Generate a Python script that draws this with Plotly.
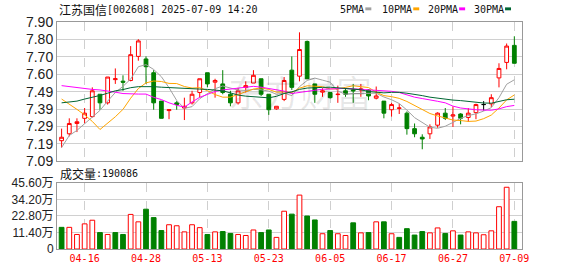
import plotly.graph_objects as go

# ---------------- data ----------------
dates = ["04-11", "04-14", "04-15", "04-16", "04-17", "04-18", "04-21", "04-22", "04-23", "04-24",
         "04-25", "04-28", "04-29", "04-30", "05-06", "05-07", "05-08", "05-09", "05-12", "05-13",
         "05-14", "05-15", "05-16", "05-19", "05-20", "05-21", "05-22", "05-23", "05-26", "05-27",
         "05-28", "05-29", "05-30", "06-03", "06-04", "06-05", "06-06", "06-09", "06-10", "06-11",
         "06-12", "06-13", "06-16", "06-17", "06-18", "06-19", "06-20", "06-23", "06-24", "06-25",
         "06-26", "06-27", "06-30", "07-01", "07-02", "07-03", "07-04", "07-07", "07-08", "07-09"]

open_ = [7.21, 7.25, 7.31, 7.34, 7.35, 7.48, 7.43, 7.565, 7.556, 7.56,
         7.70, 7.685, 7.605, 7.44, 7.385, 7.43, 7.40, 7.43, 7.49, 7.605,
         7.55, 7.54, 7.48, 7.43, 7.52, 7.545, 7.57, 7.48, 7.395, 7.45,
         7.62, 7.585, 7.787, 7.54, 7.492, 7.49, 7.478, 7.50, 7.505, 7.505,
         7.505, 7.457, 7.44, 7.39, 7.398, 7.37, 7.28, 7.23, 7.25, 7.30,
         7.37, 7.353, 7.365, 7.345, 7.373, 7.42, 7.424, 7.575, 7.665, 7.764]
high = [7.28, 7.34, 7.34, 7.40, 7.52, 7.48, 7.58, 7.63, 7.59, 7.76,
        7.80, 7.70, 7.62, 7.44, 7.39, 7.44, 7.46, 7.50, 7.57, 7.605,
        7.57, 7.62, 7.50, 7.515, 7.555, 7.62, 7.57, 7.48, 7.41, 7.58,
        7.70, 7.84, 7.792, 7.54, 7.515, 7.49, 7.53, 7.51, 7.54, 7.54,
        7.51, 7.525, 7.44, 7.43, 7.425, 7.38, 7.31, 7.247, 7.305, 7.375,
        7.40, 7.41, 7.37, 7.40, 7.425, 7.44, 7.48, 7.66, 7.775, 7.817]
low = [7.17, 7.235, 7.26, 7.31, 7.345, 7.39, 7.42, 7.54, 7.50, 7.555,
       7.675, 7.54, 7.39, 7.34, 7.335, 7.39, 7.33, 7.42, 7.46, 7.52,
       7.46, 7.48, 7.41, 7.42, 7.49, 7.545, 7.47, 7.36, 7.39, 7.44,
       7.505, 7.555, 7.57, 7.43, 7.465, 7.455, 7.43, 7.465, 7.43, 7.465,
       7.445, 7.45, 7.34, 7.35, 7.365, 7.245, 7.23, 7.16, 7.22, 7.285,
       7.33, 7.29, 7.305, 7.32, 7.335, 7.385, 7.405, 7.52, 7.625, 7.66]
close = [7.23, 7.31, 7.32, 7.37, 7.50, 7.43, 7.58, 7.57, 7.55, 7.71,
         7.79, 7.64, 7.43, 7.34, 7.39, 7.42, 7.41, 7.48, 7.57, 7.54,
         7.56, 7.49, 7.43, 7.50, 7.53, 7.59, 7.48, 7.39, 7.41, 7.56,
         7.52, 7.74, 7.57, 7.48, 7.50, 7.46, 7.48, 7.48, 7.50, 7.51,
         7.47, 7.47, 7.37, 7.42, 7.40, 7.28, 7.25, 7.22, 7.29, 7.37,
         7.34, 7.36, 7.34, 7.37, 7.42, 7.42, 7.46, 7.63, 7.76, 7.66]

ma5 = [7.17, 7.24, 7.27, 7.31, 7.346, 7.386, 7.440, 7.490, 7.526, 7.568,
       7.640, 7.652, 7.624, 7.582, 7.518, 7.444, 7.398, 7.408, 7.454, 7.484,
       7.512, 7.528, 7.518, 7.504, 7.502, 7.508, 7.506, 7.498, 7.480, 7.486,
       7.472, 7.524, 7.560, 7.574, 7.562, 7.550, 7.498, 7.480, 7.484, 7.486,
       7.488, 7.486, 7.464, 7.448, 7.426, 7.388, 7.344, 7.314, 7.288, 7.282,
       7.294, 7.316, 7.340, 7.356, 7.366, 7.382, 7.402, 7.460, 7.538, 7.564]
ma10 = [7.452, 7.424, 7.392, 7.360, 7.322, 7.275, 7.311, 7.349, 7.392, 7.457,
        7.513, 7.546, 7.557, 7.554, 7.543, 7.542, 7.525, 7.516, 7.518, 7.501,
        7.478, 7.463, 7.463, 7.479, 7.493, 7.510, 7.517, 7.508, 7.492, 7.494,
        7.490, 7.515, 7.529, 7.527, 7.524, 7.511, 7.511, 7.520, 7.529, 7.524,
        7.519, 7.492, 7.472, 7.466, 7.456, 7.438, 7.415, 7.389, 7.368, 7.354,
        7.341, 7.330, 7.327, 7.322, 7.324, 7.338, 7.359, 7.400, 7.447, 7.476]
ma20 = [7.530, 7.524, 7.519, 7.511, 7.508, 7.505, 7.500, 7.492, 7.484, 7.481,
        7.481, 7.481, 7.462, 7.449, 7.430, 7.416, 7.405, 7.435, 7.462, 7.479,
        7.496, 7.505, 7.510, 7.517, 7.518, 7.526, 7.521, 7.512, 7.505, 7.498,
        7.484, 7.489, 7.496, 7.503, 7.509, 7.511, 7.514, 7.514, 7.511, 7.509,
        7.505, 7.504, 7.501, 7.497, 7.490, 7.475, 7.463, 7.455, 7.449, 7.439,
        7.430, 7.411, 7.400, 7.394, 7.390, 7.388, 7.387, 7.395, 7.408, 7.415]
ma30 = [7.430, 7.434, 7.440, 7.452, 7.461, 7.473, 7.486, 7.500, 7.507, 7.518,
        7.524, 7.526, 7.524, 7.521, 7.518, 7.515, 7.514, 7.512, 7.510, 7.508,
        7.505, 7.500, 7.488, 7.475, 7.469, 7.466, 7.462, 7.459, 7.468, 7.484,
        7.494, 7.508, 7.516, 7.520, 7.520, 7.521, 7.518, 7.515, 7.513, 7.506,
        7.496, 7.490, 7.488, 7.491, 7.491, 7.486, 7.481, 7.472, 7.463, 7.457,
        7.450, 7.446, 7.443, 7.438, 7.435, 7.429, 7.428, 7.436, 7.448, 7.451]

# volume in 万
volume = [14.9, 14.9, 10.0, 17.3, 19.8, 11.3, 10.0, 11.3, 10.0, 23.8,
          18.7, 27.4, 21.6, 12.7, 16.7, 16.0, 11.8, 16.7, 14.7, 10.0,
          11.8, 12.0, 10.7, 10.0, 9.3, 13.1, 11.3, 13.1, 8.0, 26.0,
          24.0, 37.1, 22.7, 20.0, 10.5, 12.7, 10.5, 9.3, 18.0, 11.1,
          11.3, 18.7, 18.7, 10.5, 8.0, 14.0, 9.6, 12.0, 11.1, 14.5,
          10.7, 12.5, 9.6, 11.8, 11.1, 9.8, 12.5, 29.1, 42.5, 19.0086]
vol_dir = ["d", "u", "u", "u", "u", "d", "u", "d", "d", "u",
           "u", "d", "d", "d", "u", "u", "u", "u", "u", "d",
           "u", "d", "d", "u", "u", "u", "d", "d", "u", "u",
           "d", "u", "d", "d", "u", "d", "u", "u", "d", "u",
           "d", "u", "d", "u", "d", "d", "d", "d", "u", "u",
           "d", "u", "d", "u", "u", "u", "u", "u", "u", "d"]

price_ticks = [7.09, 7.19125, 7.2925, 7.39375, 7.495, 7.59625, 7.6975, 7.79875, 7.90]
price_labels = ["7.09", "7.19", "7.29", "7.39", "7.49", "7.60", "7.70", "7.80", "7.90"]
vol_ticks = [0, 11.40, 22.80, 34.20, 45.60]
vol_labels = ["0", "11.40万", "22.80万", "34.20万", "45.60万"]
date_ticks = ["04-16", "04-28", "05-13", "05-23", "06-05", "06-17", "06-27", "07-09"]

RED = "#ff0000"
GREEN = "#008000"

# ---------------- figure ----------------
fig = go.Figure()

is_doji = [o == c for o, c in zip(open_, close)]


def pick(arr, flag):
    return [v if d == flag else None for v, d in zip(arr, is_doji)]


fig.add_trace(go.Candlestick(
    x=dates, open=pick(open_, False), high=pick(high, False), low=pick(low, False), close=pick(close, False),
    increasing=dict(line=dict(color=RED, width=1), fillcolor="#ffffff"),
    decreasing=dict(line=dict(color=GREEN, width=1), fillcolor=GREEN),
    xaxis="x", yaxis="y", showlegend=False, hoverinfo="skip"))
fig.add_trace(go.Candlestick(
    x=dates, open=pick(open_, True), high=pick(high, True), low=pick(low, True), close=pick(close, True),
    increasing=dict(line=dict(color="#000000", width=1), fillcolor="#000000"),
    decreasing=dict(line=dict(color="#000000", width=1), fillcolor="#000000"),
    xaxis="x", yaxis="y", showlegend=False, hoverinfo="skip"))

ma_colors = {"5PMA": "#a0a0a0", "10PMA": "#ffa500", "20PMA": "#ff00ff", "30PMA": "#006633"}
for name, vals in [("5PMA", ma5), ("10PMA", ma10), ("20PMA", ma20), ("30PMA", ma30)]:
    fig.add_trace(go.Scatter(x=dates, y=vals, mode="lines", name=name,
                             line=dict(color=ma_colors[name], width=1),
                             xaxis="x", yaxis="y", showlegend=False, hoverinfo="skip"))

fig.add_trace(go.Bar(
    x=dates, y=volume,
    marker=dict(color=["#ffffff" if d == "u" else GREEN for d in vol_dir],
                line=dict(color=[RED if d == "u" else GREEN for d in vol_dir], width=1)),
    width=0.62, xaxis="x2", yaxis="y2", showlegend=False, hoverinfo="skip"))

H_MAIN = [(255 - 165) / 233, 1.0]
H_VOL = [0.0, (255 - 187) / 233]

common_x = dict(type="category", categoryorder="array", categoryarray=dates,
                range=[-0.6, 60.0], tickmode="array", tickvals=date_ticks,
                showgrid=True, gridcolor="#cfcfcf", griddash="dash", gridwidth=1,
                showline=True, linecolor="#999999", mirror=True, linewidth=1,
                ticks="", zeroline=False, fixedrange=True)

fig.update_layout(
    width=578, height=276,
    margin=dict(l=56, r=56, t=22, b=21, pad=0),
    paper_bgcolor="#ffffff", plot_bgcolor="#ffffff",
    showlegend=False,
    xaxis=dict(**common_x, domain=[0, 1], anchor="y", showticklabels=False,
               rangeslider=dict(visible=False)),
    yaxis=dict(domain=H_MAIN, anchor="x", range=[7.09, 7.90], tickmode="array",
               tickvals=price_ticks, ticktext=price_labels,
               showgrid=True, gridcolor="#d0d0d0", gridwidth=1,
               showline=True, linecolor="#999999", mirror=True, linewidth=1,
               ticks="", zeroline=False,
               tickfont=dict(family="Liberation Sans, Arial", size=14, color="#222222")),
    xaxis2=dict(**common_x, domain=[0, 1], anchor="y2", showticklabels=True,
                tickfont=dict(family="DejaVu Sans Mono", size=10, color=RED),
                rangeslider=dict(visible=False)),
    yaxis2=dict(domain=H_VOL, anchor="x2", range=[0, 45.60], tickmode="array",
                tickvals=vol_ticks, ticktext=vol_labels,
                showgrid=True, gridcolor="#d0d0d0", gridwidth=1,
                showline=True, linecolor="#999999", mirror=True, linewidth=1,
                ticks="", zeroline=False,
                tickfont=dict(family="Liberation Sans, Noto Sans CJK SC", size=12, color="#222222")),
)


def px_x(px):
    return (px - 56) / 466


def px_y(py):
    return (255 - py) / 233


ann = []
# title
ann.append(dict(text="江苏国信", x=px_x(56), y=px_y(9.5), xref="paper", yref="paper",
                xanchor="left", yanchor="middle", showarrow=False,
                font=dict(family="Noto Sans CJK SC", size=12, color="#111111")))
ann.append(dict(text="[002608] 2025-07-09 14:20", x=px_x(104), y=px_y(9.5), xref="paper", yref="paper",
                xanchor="left", yanchor="middle", showarrow=False,
                font=dict(family="DejaVu Sans Mono", size=10, color="#111111")))
# volume caption
ann.append(dict(text="成交量", x=px_x(57), y=px_y(177.5), xref="paper", yref="paper",
                xanchor="left", yanchor="middle", showarrow=False,
                font=dict(family="Noto Sans CJK SC", size=12, color="#111111")))
ann.append(dict(text=":190086", x=px_x(93), y=px_y(177.5), xref="paper", yref="paper",
                xanchor="left", yanchor="middle", showarrow=False,
                font=dict(family="DejaVu Sans Mono", size=10, color="#111111")))
# watermark
ann.append(dict(text="东方财富", x=px_x(300), y=px_y(93), xref="paper", yref="paper",
                xanchor="center", yanchor="middle", showarrow=False,
                font=dict(family="Noto Sans CJK SC", size=36, color="rgba(0,0,0,0.09)")))

shapes = []
legend_pos = [("5PMA", 338, 365), ("10PMA", 380, 413), ("20PMA", 426, 459), ("30PMA", 472, 505)]
for name, tx, sx in legend_pos:
    ann.append(dict(text=name, x=px_x(tx), y=px_y(9), xref="paper", yref="paper",
                    xanchor="left", yanchor="middle", showarrow=False,
                    font=dict(family="DejaVu Sans Mono", size=10, color="#111111")))
    shapes.append(dict(type="rect", xref="paper", yref="paper",
                       x0=px_x(sx), x1=px_x(sx + 6), y0=px_y(10), y1=px_y(7),
                       fillcolor=ma_colors[name], line=dict(width=0)))

fig.update_layout(annotations=ann, shapes=shapes)

fig.write_html("out.html")
